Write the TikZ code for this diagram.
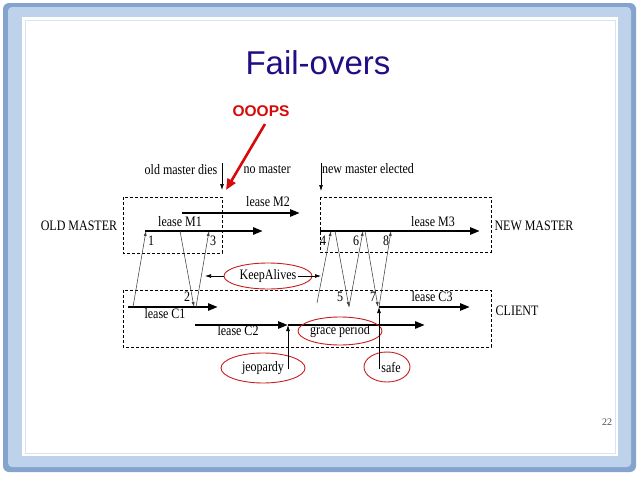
\documentclass[tikz,border=0pt]{standalone}
\usepackage{fontspec}
\setmainfont{Liberation Serif}
\newfontfamily\slidesans{Liberation Sans}
\usepackage{tikz}
\usetikzlibrary{arrows.meta, shapes.geometric}
\definecolor{titleblue}{RGB}{36,12,132}
\definecolor{oopsred}{RGB}{214,10,10}
\definecolor{ovalred}{RGB}{200,30,30}
\definecolor{framedark}{RGB}{132,164,205}
\definecolor{framelight}{RGB}{190,210,235}
\newcommand\tallt[1]{\scalebox{1}[1.2]{#1}}

\begin{document}
\begin{tikzpicture}[
  x=1pt, y=-1pt,
  lbl/.style={font=\fontsize{12}{14}\selectfont, inner sep=1pt},
  num/.style={font=\fontsize{12}{14}\selectfont, inner sep=0pt},
  lease/.style={line width=2.6pt, -{Triangle[length=10pt,width=7pt]}},
  msg/.style={line width=0.55pt, draw=black!75, -{Latex[length=5pt,width=3pt]}},
  event/.style={line width=0.7pt, -{Latex[length=6pt,width=4pt]}},
  group/.style={draw, line width=0.8pt, dash pattern=on 3pt off 2pt},
  oval/.style={draw=ovalred, line width=0.9pt, ellipse, inner sep=0pt}
]
\useasboundingbox (0,0) rectangle (638,479);

% slide frame
\fill[framedark, rounded corners=6pt] (3,3) rectangle (636,472);
\fill[framelight, rounded corners=4pt] (8,7) rectangle (631,467);
\fill[white] (22,17) rectangle (618,456);
\draw[framelight!60, line width=0.8pt] (25,20) rectangle (615,453);

% title
\node[font=\slidesans\fontsize{33}{38}\selectfont, text=titleblue] (title) at (318,63) {Fail-overs};
\node[font=\slidesans\bfseries\fontsize{15.5}{18}\selectfont, text=oopsred] (oops) at (261,111) {OOOPS};

% role boxes
\draw[group] (123,197) rectangle (222,253);
\draw[group] (320,197) rectangle (491,252);
\draw[group] (123,290) rectangle (491,347);
\node[lbl] (oldm) at (79,226) {\tallt{OLD MASTER}};
\node[lbl] (newm) at (534,226) {\tallt{NEW MASTER}};
\node[lbl] (client) at (517,311) {\tallt{CLIENT}};

% events
\node[lbl] (dies) at (181,170) {\tallt{old master dies}};
\node[lbl] (nomaster) at (267,170) {\tallt{no master}};
\node[lbl] (elected) at (368,169) {\tallt{new master elected}};
\coordinate (diesT) at (222,163);
\coordinate (diesB) at (222,190);
\coordinate (electT) at (321,163);
\coordinate (electB) at (321,191);
\draw[event] (diesT) -- (diesB);
\draw[event] (electT) -- (electB);
\coordinate (oopsT) at (265,124);
\coordinate (oopsB) at (226,190);
\draw[oopsred, line width=2.6pt, -{Triangle[length=11pt,width=9pt]}] (oopsT) -- (oopsB);

% leases
\coordinate (m1s) at (145,231);
\coordinate (m1e) at (263,231);
\coordinate (m2s) at (182,213);
\coordinate (m2e) at (300,213);
\coordinate (m3s) at (320,231);
\coordinate (m3e) at (480,231);
\coordinate (c1s) at (128,307);
\coordinate (c1e) at (218,307);
\coordinate (c2s) at (195,325);
\coordinate (c2e) at (288,325);
\coordinate (gpe) at (425,325);
\coordinate (c3s) at (379,307);
\coordinate (c3e) at (470,307);
\draw[lease] (m1s) -- (m1e);
\draw[lease] (m2s) -- (m2e);
\draw[lease] (m3s) -- (m3e);
\draw[lease] (c1s) -- (c1e);
\draw[lease] (c2s) -- (c2e);
\draw[lease] (c2e) -- (gpe);
\draw[lease] (c3s) -- (c3e);
\node[lbl] (lm1) at (180,222) {\tallt{lease M1}};
\node[lbl] (lm2) at (268,202) {\tallt{lease M2}};
\node[lbl] (lm3) at (433,222) {\tallt{lease M3}};
\node[lbl] (lc1) at (165,314) {\tallt{lease C1}};
\node[lbl] (lc2) at (238,331) {\tallt{lease C2}};
\node[lbl] (lc3) at (432,297) {\tallt{lease C3}};

% messages
\foreach \i/\xa/\ya/\xb/\yb in {
  1/133/307/146/231,
  2/180/231/194/307,
  3/196/307/209/231,
  4/317/303/331/231,
  5/335/231/349/307,
  6/349/307/363/231,
  7/365/231/378/307,
  8/379/307/391/231
}{
  \coordinate (msg\i a) at (\xa,\ya);
  \coordinate (msg\i b) at (\xb,\yb);
  \draw[msg] (msg\i a) -- (msg\i b);
}
\foreach \i/\x/\y in {1/151/241, 2/187/297, 3/213/241, 4/323/241,
                      5/340/297, 6/356/241, 7/373/297, 8/386/241}
  \node[num] (n\i) at (\x,\y) {\tallt{\i}};

% keepalives
\node[lbl] (ka) at (268,276) {\tallt{KeepAlives}};
\node[oval, minimum width=88pt, minimum height=26pt] (kaoval) at (ka) {};
\coordinate (kaL) at (205,276);
\coordinate (kaR) at (321,276);
\draw[event] (kaoval.west) -- (kaL);
\draw[event] (ka.east) -- (kaR);

% grace period, jeopardy, safe
\node[lbl] (grace) at (340,331) {\tallt{grace period}};
\node[oval, minimum width=84pt, minimum height=28pt] (graceoval) at (grace) {};
\node[lbl] (jeop) at (263,368) {\tallt{jeopardy}};
\node[oval, minimum width=84pt, minimum height=30pt] (jeopoval) at (jeop) {};
\node[lbl] (safe) at (391,367) {\tallt{safe}};
\node[oval, minimum width=46pt, minimum height=30pt] (safeoval) at (387,367) {};
\coordinate (jeopB) at (288,369);
\coordinate (safeB) at (379,369);
\draw[event] (jeopB) -- (c2e);
\draw[event] (safeB) -- (c3s);

% page number
\node[font=\fontsize{10}{12}\selectfont, text=black!70] (page) at (607,422) {22};
\end{tikzpicture}
\end{document}
